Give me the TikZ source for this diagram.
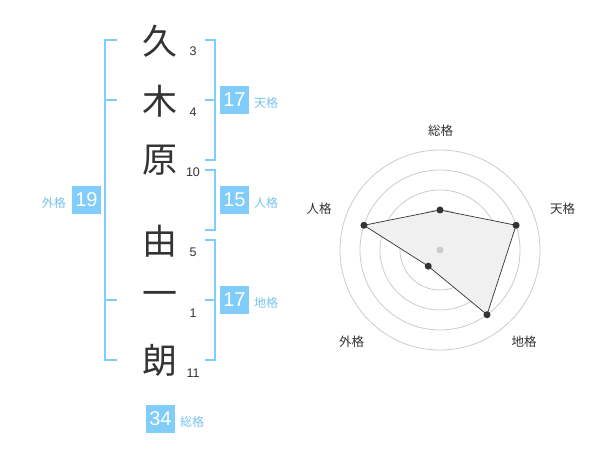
\documentclass[tikz,border=0pt]{standalone}
\usepackage{fontspec}
\setmainfont{Liberation Sans}
\newfontfamily\jp{Noto Sans CJK JP}
\definecolor{kblue}{RGB}{128,204,250}
\definecolor{lblue}{RGB}{120,196,240}
\definecolor{ink}{RGB}{51,51,51}
\definecolor{ring}{RGB}{204,204,204}
\definecolor{area}{RGB}{240,240,240}
\begin{document}
\begin{tikzpicture}[x=1pt,y=-1pt,
  kanji/.style={font=\jp\fontsize{35}{35}\selectfont, text=ink, inner sep=0pt},
  strokes/.style={font=\fontsize{12.5}{12.5}\selectfont, text=ink, inner sep=0pt},
  numbox/.style={fill=kblue, text=white, minimum width=29pt, minimum height=28pt, inner sep=0pt, font=\fontsize{20}{20}\selectfont},
  kaku/.style={font=\jp\fontsize{12}{12}\selectfont, text=lblue, inner sep=0pt},
  bracket/.style={draw=kblue, line width=2pt},
  axislabel/.style={font=\jp\fontsize{12.5}{12.5}\selectfont, text=ink, inner sep=0pt},
  ringline/.style={draw=ring, line width=0.8pt},
  dot/.style={circle, fill=ink, inner sep=0pt, minimum size=7pt}
]
\useasboundingbox (0,0) rectangle (600,470);
\fill[white] (0,0) rectangle (600,470);

% kanji and stroke counts
\node[kanji] (k1) at (160,41) {久};
\node[kanji] (k2) at (160,101) {木};
\node[kanji] (k3) at (160,160) {原};
\node[kanji] (k4) at (160,241) {由};
\node[kanji] (k5) at (160,299) {一};
\node[kanji] (k6) at (160,360) {朗};
\node[strokes] (n1) at (193,51) {3};
\node[strokes] (n2) at (193,112) {4};
\node[strokes] (n3) at (193,172) {10};
\node[strokes] (n4) at (193,252) {5};
\node[strokes] (n5) at (193,313) {1};
\node[strokes] (n6) at (193,373) {11};

% brackets
\draw[bracket] (117,40) -- (105,40) -- (105,360) -- (117,360);
\draw[bracket] (105,100) -- (117,100);
\draw[bracket] (105,300) -- (117,300);
\draw[bracket] (205,40) -- (215,40) -- (215,160) -- (205,160);
\draw[bracket] (205,100) -- (215,100);
\draw[bracket] (205,170) -- (215,170) -- (215,230) -- (205,230);
\draw[bracket] (205,240) -- (215,240) -- (215,360) -- (205,360);
\draw[bracket] (205,300) -- (215,300);

% boxes
\node[numbox] (ten) at (234.5,100) {17};
\node[kaku, anchor=west] (tenl) at (254,103) {天格};
\node[numbox] (jin) at (234.5,200) {15};
\node[kaku, anchor=west] (jinl) at (254,203) {人格};
\node[numbox] (chi) at (234.5,300) {17};
\node[kaku, anchor=west] (chil) at (254,303) {地格};
\node[numbox] (gai) at (86.5,200) {19};
\node[kaku, anchor=east] (gail) at (66,203) {外格};
\node[numbox] (sou) at (160.5,419) {34};
\node[kaku, anchor=west] (soul) at (180,422) {総格};

% radar chart
\begin{scope}[shift={(440,250)}, yscale=-1]
  \foreach \r in {20,40,60,80,100} \draw[ringline] (0,0) circle[radius=\r];
  \coordinate (pSou) at (90:40);
  \coordinate (pTen) at (18:80);
  \coordinate (pChi) at (-54:80);
  \coordinate (pGai) at (-126:20);
  \coordinate (pJin) at (162:80);
  \filldraw[fill=area, draw=ink, line width=0.7pt] (pSou) -- (pTen) -- (pChi) -- (pGai) -- (pJin) -- cycle;
  \node[circle, fill=ring, inner sep=0pt, minimum size=7pt] (ctr) at (0,0) {};
  \foreach \p in {pSou,pTen,pChi,pGai,pJin} \node[dot] at (\p) {};
\end{scope}
\node[axislabel] (aSou) at (440.5,130.5) {総格};
\node[axislabel] (aTen) at (562.5,208.5) {天格};
\node[axislabel] (aChi) at (524,342) {地格};
\node[axislabel] (aGai) at (351.5,342) {外格};
\node[axislabel] (aJin) at (319,208.5) {人格};
\end{tikzpicture}
\end{document}
